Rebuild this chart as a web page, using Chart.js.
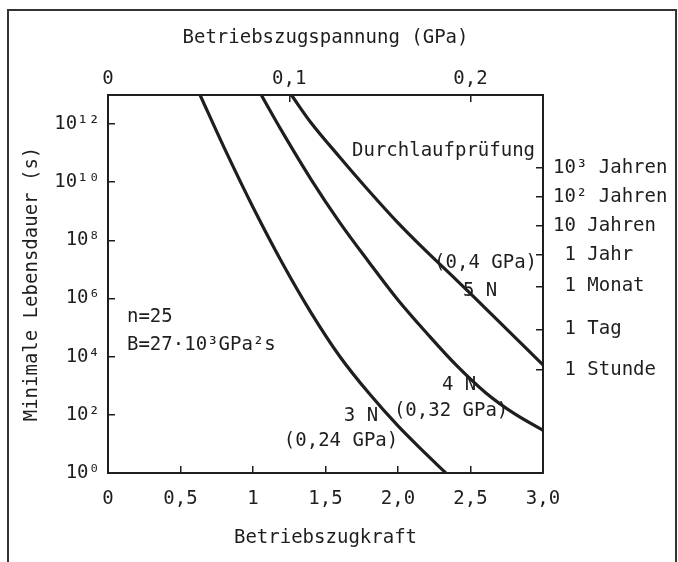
<!DOCTYPE html>
<html><head><meta charset="utf-8">
<script src="https://cdn.jsdelivr.net/npm/chart.js@4.4.1/dist/chart.umd.min.js"></script>
<style>
html,body{margin:0;padding:0;background:#fff;overflow:hidden;}
#wrap{position:relative;width:678px;height:562px;}
#frame{position:absolute;left:7px;top:9px;width:666px;height:600px;border:2px solid #333;border-bottom:none;pointer-events:none;}
canvas{position:absolute;left:0;top:0;}
</style></head><body>
<div id="wrap"><canvas id="c" width="678" height="562"></canvas><div id="frame"></div></div>
<script>
const FONT = "'DejaVu Sans Mono', 'Liberation Mono', monospace";
const INK = '#1e1e1e';

// Betriebszugkraft (N) and minimale Lebensdauer (s) for each curve
const force3N = [0.635, 0.80, 1.00, 1.20, 1.40, 1.60, 1.80, 2.00, 2.20, 2.33];
const life3N  = [1e13, 1.58e11, 1.38e9, 1.74e7, 3.3e5, 1.0e4, 550, 41.7, 4.2, 1];
const force4N = [1.057, 1.20, 1.40, 1.60, 1.80, 2.00, 2.20, 2.40, 2.60, 2.80, 3.00];
const life4N  = [1e13, 5.6e11, 1.26e10, 4.0e8, 1.78e7, 8.9e5, 6.3e4, 5.2e3, 603, 112, 29.5];
const force5N = [1.265, 1.40, 1.60, 1.80, 2.00, 2.20, 2.40, 2.60, 2.80, 3.00];
const life5N  = [1e13, 1.12e12, 7.1e10, 5.0e9, 4.0e8, 4.0e7, 4.5e6, 4.8e5, 5.0e4, 5.2e3];

// axis ticks
const xTickValues = [0, 0.5, 1, 1.5, 2, 2.5, 3];
const xTickLabels = ['0', '0,5', '1', '1,5', '2,0', '2,5', '3,0'];
const topTickValues = [0, 0.1, 0.2];
const topTickLabels = ['0', '0,1', '0,2'];
const yTickValues = [1, 1e2, 1e4, 1e6, 1e8, 1e10, 1e12];
const yTickLabels = ['10⁰', '10²', '10⁴', '10⁶', '10⁸', '10¹⁰', '10¹²'];
const rightTickValues = [3600, 86400, 2.63e6, 3.156e7, 3.156e8, 3.156e9, 3.156e10];
const rightTickLabels = [' 1 Stunde', ' 1 Tag', ' 1 Monat', ' 1 Jahr', '10 Jahren', '10² Jahren', '10³ Jahren'];

// text annotations (in data coordinates)
const notes = [
  {text: 'Durchlaufprüfung', x: 2.945, y: 1.17e11, align: 'right'},
  {text: '(0,4 GPa)', x: 2.959, y: 1.7e7, align: 'right'},
  {text: '5 N', x: 2.566, y: 1.86e6, align: 'center'},
  {text: '4 N', x: 2.421, y: 1050, align: 'center'},
  {text: '(0,32 GPa)', x: 2.366, y: 135, align: 'center'},
  {text: '3 N', x: 1.745, y: 89, align: 'center'},
  {text: '(0,24 GPa)', x: 1.607, y: 12.6, align: 'center'},
  {text: 'n=25', x: 0.131, y: 2.24e5, align: 'left'},
  {text: 'B=27·10³GPa²s', x: 0.131, y: 2.6e4, align: 'left'}
];

const toXY = (xs, ys) => xs.map((x, i) => ({x: x, y: ys[i]}));

const notesPlugin = {
  id: 'notes',
  afterDatasetsDraw(chart) {
    const ctx = chart.ctx, sx = chart.scales.x, sy = chart.scales.y;
    ctx.save();
    ctx.fillStyle = INK;
    ctx.font = '19px ' + FONT;
    ctx.textBaseline = 'middle';
    notes.forEach(n => {
      ctx.textAlign = n.align;
      ctx.fillText(n.text, sx.getPixelForValue(n.x), sy.getPixelForValue(n.y));
    });
    ctx.restore();
  }
};

const axisCommon = {
  grid: {display: true, drawOnChartArea: false, drawTicks: true, tickLength: -7, color: INK, lineWidth: 1.5},
  border: {display: true, color: INK, width: 2},
};
const tickFont = {family: FONT, size: 19};

new Chart(document.getElementById('c'), {
  type: 'line',
  data: {
    datasets: [
      {label: '3 N (0,24 GPa)', data: toXY(force3N, life3N)},
      {label: '4 N (0,32 GPa)', data: toXY(force4N, life4N)},
      {label: '5 N (0,4 GPa)', data: toXY(force5N, life5N)}
    ].map(d => Object.assign(d, {borderColor: INK, borderWidth: 3.2, pointRadius: 0, fill: false, tension: 0.35, xAxisID: 'x', yAxisID: 'y'}))
  },
  options: {
    responsive: false,
    animation: false,
    devicePixelRatio: 1,
    layout: {padding: 0},
    plugins: {legend: {display: false}, tooltip: {enabled: false}},
    scales: {
      x: Object.assign({}, axisCommon, {
        type: 'linear', position: 'bottom', min: 0, max: 3,
        afterBuildTicks: s => { s.ticks = xTickValues.map(v => ({value: v})); },
        afterFit: s => { s.height = 89; },
        ticks: {color: INK, font: tickFont, padding: 22, autoSkip: false, maxRotation: 0,
                callback: v => xTickLabels[xTickValues.indexOf(v)]},
        title: {display: true, text: 'Betriebszugkraft', color: INK, font: tickFont, padding: {top: 0, bottom: 13}}
      }),
      x2: Object.assign({}, axisCommon, {
        type: 'linear', position: 'top', min: 0, max: 0.24,
        afterBuildTicks: s => { s.ticks = topTickValues.map(v => ({value: v})); },
        afterFit: s => { s.height = 95; },
        ticks: {color: INK, font: tickFont, padding: 12, autoSkip: false, maxRotation: 0,
                callback: v => topTickLabels[topTickValues.indexOf(v)]},
        title: {display: true, text: 'Betriebszugspannung (GPa)', color: INK, font: tickFont, padding: {top: 27, bottom: 0}}
      }),
      y: Object.assign({}, axisCommon, {
        type: 'logarithmic', position: 'left', min: 1, max: 1e13,
        afterBuildTicks: s => { s.ticks = yTickValues.map(v => ({value: v})); },
        afterFit: s => { s.width = 108; },
        ticks: {color: INK, font: tickFont, padding: 15, autoSkip: false,
                callback: v => yTickLabels[yTickValues.indexOf(v)]},
        title: {display: true, text: 'Minimale Lebensdauer (s)', color: INK, font: tickFont, padding: {top: 21, bottom: 0}}
      }),
      y2: Object.assign({}, axisCommon, {
        type: 'logarithmic', position: 'right', min: 1, max: 1e13,
        afterBuildTicks: s => { s.ticks = rightTickValues.map(v => ({value: v})); },
        afterFit: s => { s.width = 135; },
        ticks: {color: INK, font: tickFont, padding: 17, autoSkip: false,
                callback: v => rightTickLabels[rightTickValues.indexOf(v)]}
      })
    }
  },
  plugins: [notesPlugin]
});
</script>
</body></html>
